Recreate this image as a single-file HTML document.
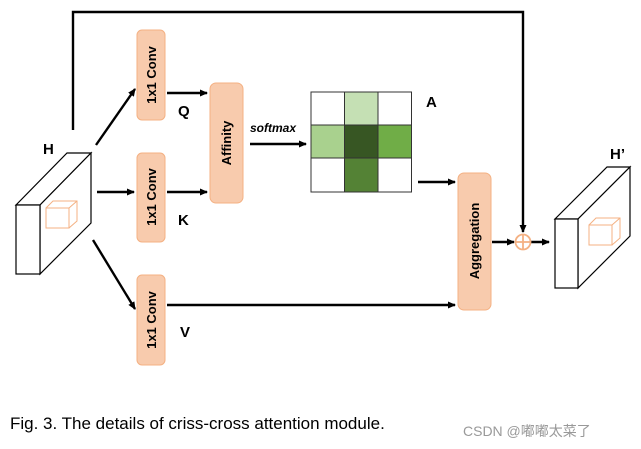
<!DOCTYPE html>
<html><head><style>body{margin:0;background:#fff}svg{display:block}</style></head><body>
<svg width="641" height="449" viewBox="0 0 641 449" xmlns="http://www.w3.org/2000/svg" font-family="Liberation Sans, DejaVu Sans, sans-serif">
<defs><marker id="ar" markerWidth="8" markerHeight="8" refX="7" refY="4" orient="auto" markerUnits="userSpaceOnUse"><path d="M0,0.5 L8,4 L0,7.5Z" fill="#000"/></marker></defs>
<g stroke="#000" stroke-width="2.4" fill="none">
<polyline points="73,130 73,12 523,12 523,232" marker-end="url(#ar)"/>
<line x1="96" y1="145" x2="135" y2="89" marker-end="url(#ar)"/>
<line x1="97" y1="192" x2="134" y2="192" marker-end="url(#ar)"/>
<line x1="93" y1="240" x2="135" y2="309" marker-end="url(#ar)"/>
<line x1="167" y1="93" x2="207" y2="93" marker-end="url(#ar)"/>
<line x1="167" y1="192" x2="207" y2="192" marker-end="url(#ar)"/>
<line x1="250" y1="144" x2="306" y2="144" marker-end="url(#ar)"/>
<line x1="418" y1="182" x2="455" y2="182" marker-end="url(#ar)"/>
<line x1="167" y1="305" x2="455" y2="305" marker-end="url(#ar)"/>
<line x1="492" y1="242" x2="514" y2="242" marker-end="url(#ar)"/>
<line x1="531" y1="242" x2="549" y2="242" marker-end="url(#ar)"/>
</g>
<g fill="#f8cbad" stroke="#f4b183" stroke-width="1">
<rect x="137" y="30" width="28" height="90" rx="5"/>
<rect x="137" y="153" width="28" height="89" rx="5"/>
<rect x="137" y="275" width="28" height="90" rx="5"/>
<rect x="210" y="83" width="33" height="120" rx="6"/>
<rect x="458" y="173" width="33" height="137" rx="6"/>
</g>
<g font-weight="bold" font-size="13" fill="#000" text-anchor="middle">
<text transform="translate(156,75) rotate(-90)">1x1 Conv</text>
<text transform="translate(156,197) rotate(-90)">1x1 Conv</text>
<text transform="translate(156,320) rotate(-90)">1x1 Conv</text>
<text transform="translate(231,143) rotate(-90)">Affinity</text>
<text transform="translate(479,241) rotate(-90)">Aggregation</text>
</g>
<g font-weight="bold" font-size="15" fill="#000">
<text x="178" y="116">Q</text><text x="178" y="225">K</text><text x="180" y="337">V</text>
<text x="43" y="154">H</text><text x="426" y="107">A</text><text x="610" y="159">H’</text>
</g>
<text x="250" y="132" font-size="12" font-weight="bold" font-style="italic">softmax</text>
<g stroke="#333" stroke-width="1">
<rect x="311" y="92" width="33.5" height="33" fill="#fff"/>
<rect x="344.5" y="92" width="33.5" height="33" fill="#c5e0b4"/>
<rect x="378" y="92" width="33.5" height="33" fill="#fff"/>
<rect x="311" y="125" width="33.5" height="33" fill="#a9d18e"/>
<rect x="344.5" y="125" width="33.5" height="33" fill="#375623"/>
<rect x="378" y="125" width="33.5" height="33" fill="#70ad47"/>
<rect x="311" y="158" width="33.5" height="34" fill="#fff"/>
<rect x="344.5" y="158" width="33.5" height="34" fill="#548235"/>
<rect x="378" y="158" width="33.5" height="34" fill="#fff"/>
</g>
<g fill="#fff" stroke="#000" stroke-width="1.2">
<polygon points="16,205 40,205 91,153 67,153"/>
<polygon points="40,205 91,153 91,223 40,274"/>
<rect x="16" y="205" width="24" height="69"/>
<polygon points="555,219 578,219 630,167 607,167"/>
<polygon points="578,219 630,167 630,236 578,288"/>
<rect x="555" y="219" width="23" height="69"/>
</g>
<g fill="none" stroke="#f4b183" stroke-width="1">
<rect x="46" y="208" width="23" height="20"/><polyline points="46,208 53,201 77,201 77,221 69,228"/><line x1="69" y1="208" x2="77" y2="201"/>
<rect x="589" y="225" width="23" height="20"/><polyline points="589,225 596,218 620,218 620,238 612,245"/><line x1="612" y1="225" x2="620" y2="218"/>
</g>
<g stroke="#f4b183" stroke-width="1.8" fill="#fff"><circle cx="523" cy="242" r="7.5"/><line x1="515.5" y1="242" x2="530.5" y2="242"/><line x1="523" y1="234.5" x2="523" y2="249.5"/></g>
<text x="10" y="429" font-size="17" fill="#000">Fig. 3. The details of criss-cross attention module.</text>
<text x="463" y="436" font-size="14" fill="#999" font-family="Liberation Sans, Noto Sans CJK SC, sans-serif">CSDN @嘟嘟太菜了</text>
</svg>
</body></html>
